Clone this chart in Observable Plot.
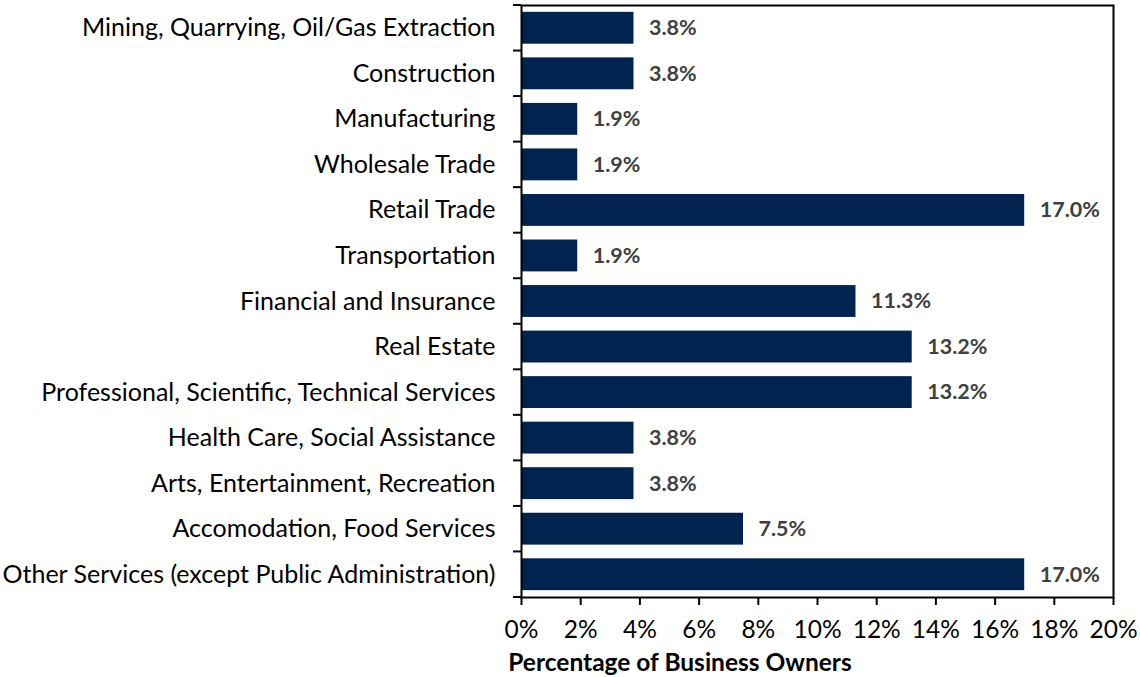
<!DOCTYPE html>
<html>
<head>
<meta charset="utf-8">
<script src="https://cdn.jsdelivr.net/npm/d3@7"></script>
<script src="https://cdn.jsdelivr.net/npm/@observablehq/plot@0.6"></script>
<style>
  html, body { margin: 0; padding: 0; background: #fff; }
  #wrap { position: relative; width: 1140px; height: 677px; font-family: Lato, "Open Sans", sans-serif; }
  #xtitle { position: absolute; left: 0; width: 1360px; top: 647px; text-align: center; font-weight: bold; font-size: 24.5px; color: #000; }
</style>
</head>
<body>
<div id="wrap"><div id="xtitle">Percentage of Business Owners</div></div>
<script>
const categories = [
  "Mining, Quarrying, Oil/Gas Extraction",
  "Construction",
  "Manufacturing",
  "Wholesale Trade",
  "Retail Trade",
  "Transportation",
  "Financial and Insurance",
  "Real Estate",
  "Professional, Scientific, Technical Services",
  "Health Care, Social Assistance",
  "Arts, Entertainment, Recreation",
  "Accomodation, Food Services",
  "Other Services (except Public Administration)"
];
const values = [3.8, 3.8, 1.9, 1.9, 17.0, 1.9, 11.3, 13.2, 13.2, 3.8, 3.8, 7.5, 17.0];
const xTicks = [0, 2, 4, 6, 8, 10, 12, 14, 16, 18, 20];

const data = categories.map((c, i) => ({category: c, value: values[i]}));

const plot = Plot.plot({
  width: 1140,
  height: 677,
  marginLeft: 521,
  marginRight: 27,
  marginTop: 5,
  marginBottom: 80,
  style: {fontFamily: "Lato, 'Open Sans', sans-serif", fontSize: "24px", color: "#000", background: "#fff"},
  x: {domain: [0, 20]},
  y: {domain: categories, paddingInner: 0.3, paddingOuter: 0.15, round: false},
  marks: [
    Plot.barX(data, {x: "value", y: "category", fill: "#00244f"}),
    Plot.text(data, {x: "value", y: "category", text: d => d.value.toFixed(1) + "%", textAnchor: "start", dx: 15, fill: "#404040", fontWeight: "bold", fontSize: 21.5}),
    Plot.frame({stroke: "#000", strokeWidth: 2}),
    Plot.axisX({ticks: xTicks, tickFormat: d => d + "%", tickSize: 8, tickPadding: 15, strokeWidth: 2, label: null, fontSize: 24.5}),
    Plot.axisY({tickSize: 0, tickPadding: 26, label: null, fontSize: 25})
  ]
});

// Band-boundary tick marks on the y axis
const yScale = plot.scale("y");
const yTop = Math.min(...yScale.range);
const yBottom = Math.max(...yScale.range);
const boundaries = d3.range(categories.length + 1).map(i => yTop + i * ((yBottom - yTop) / categories.length));
d3.select(plot).append("g")
  .attr("stroke", "#000")
  .attr("stroke-width", 2)
  .selectAll("line")
  .data(boundaries)
  .join("line")
  .attr("x1", 521 - 8).attr("x2", 521)
  .attr("y1", d => d).attr("y2", d => d);

plot.style.position = "absolute";
plot.style.left = "0";
plot.style.top = "0";
document.getElementById("wrap").prepend(plot);
</script>
</body>
</html>
